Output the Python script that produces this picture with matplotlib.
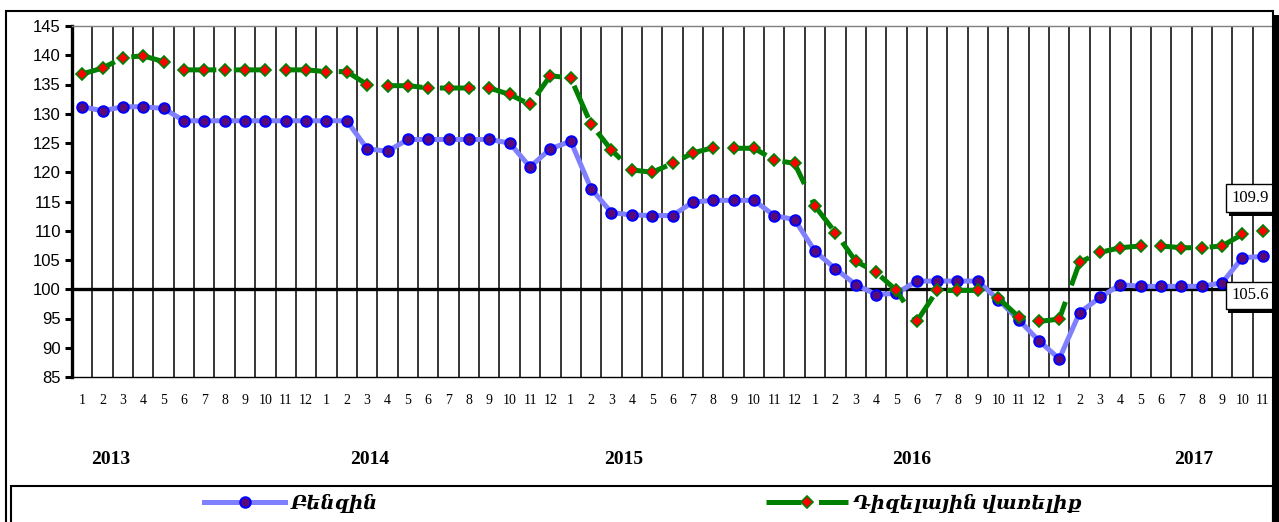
"""
Gasoline vs diesel price index, monthly 2013-2017.
Writes out.png
"""

import matplotlib.pyplot as plt
import matplotlib.patheffects as pe
from matplotlib.lines import Line2D
from matplotlib.patches import Rectangle

MONTHS = list(range(1, 13)) * 4 + list(range(1, 12))
YEARS = ["2013", "2014", "2015", "2016", "2017"]

GASOLINE = [
    131.2, 130.5, 131.2, 131.2, 130.9, 128.8, 128.8, 128.8, 128.8, 128.8, 128.8, 128.8,
    128.8, 128.8, 124.0, 123.6, 125.6, 125.6, 125.6, 125.6, 125.6, 125.0, 120.9, 124.0,
    125.3, 117.2, 113.1, 112.7, 112.6, 112.6, 114.9, 115.2, 115.2, 115.2, 112.6, 111.9,
    106.5, 103.5, 100.8, 99.1, 99.3, 101.4, 101.4, 101.4, 101.4, 98.2, 94.8, 91.2,
    88.1, 96.0, 98.6, 100.8, 100.5, 100.5, 100.5, 100.5, 101.1, 105.4, 105.6,
]
DIESEL = [
    136.8, 137.8, 139.6, 139.9, 138.9, 137.5, 137.5, 137.5, 137.5, 137.5, 137.5, 137.5,
    137.2, 137.2, 135.0, 134.8, 134.8, 134.4, 134.4, 134.4, 134.4, 133.3, 131.6, 136.5,
    136.1, 128.2, 123.8, 120.4, 120.0, 121.5, 123.3, 124.2, 124.1, 124.1, 122.1, 121.5,
    114.2, 109.7, 104.8, 102.9, 99.8, 94.5, 99.8, 99.8, 99.8, 98.5, 95.3, 94.5,
    94.9, 104.6, 106.3, 107.1, 107.4, 107.4, 107.1, 107.1, 107.4, 109.4, 109.9,
]
LABEL_GAS = "Բենզին"
LABEL_DIESEL = "Դիզելային վառելիք"

# where the year captions sit, in category units
YEAR_POS = [1.35, 14.04, 26.5, 40.67, 54.5]

W, H = 1279, 522
SERIF = ["Liberation Serif", "DejaVu Serif"]
DASH = (0, (7, 3.5))


def main() -> None:
    fig = plt.figure(figsize=(W / 100, H / 100), dpi=100)
    ax = fig.add_axes([72 / W, 1 - 377 / H, (1273 - 72) / W, (377 - 26) / H])

    x = list(range(len(MONTHS)))

    # category boundaries as vertical lines
    for k in range(1, len(MONTHS)):
        ax.axvline(k - 0.5, color="black", lw=1.1, zorder=1)
    ax.axhline(100, color="black", lw=2.4, zorder=2)

    ax.plot(x, GASOLINE, color="#8080FF", lw=3.6, marker="o", ms=7.5,
            mfc="#5a0a78", mec="#0000FF", mew=1.5, zorder=3, label=LABEL_GAS)
    ax.plot(x, DIESEL, color="#008000", lw=3.6, linestyle=DASH,
            marker="D", ms=6.2, mfc="#FF0000", mec="#008000", mew=1.2,
            zorder=4, label=LABEL_DIESEL)

    ax.set_xlim(-0.5, len(MONTHS) - 0.5)
    ax.set_ylim(85, 145)
    ax.set_yticks(range(85, 146, 5))
    ax.set_xticks(x)
    ax.set_xticklabels([str(m) for m in MONTHS], family=SERIF, fontsize=10)
    ax.tick_params(axis="x", length=0, pad=12)
    ax.tick_params(axis="y", direction="out", length=5, width=2.2, pad=3,
                   labelsize=12)
    for lab in ax.get_yticklabels():
        lab.set_family(["Liberation Sans Narrow", "Liberation Sans"])

    ax.spines["left"].set_linewidth(2.4)
    ax.spines["bottom"].set_linewidth(1.0)
    ax.spines["top"].set_color("#808080")
    ax.spines["top"].set_linewidth(1.0)
    ax.spines["right"].set_visible(False)

    # year captions below the month numbers
    for pos, yr in zip(YEAR_POS, YEARS):
        fig.text((73.5 + (pos + 0.5) * 20.36) / W, 1 - 460 / H, yr,
                 ha="center", va="center", family=SERIF, fontsize=14,
                 fontweight="bold")

    # end-point value labels with shadow
    shadow = [pe.withSimplePatchShadow(offset=(2, -3), shadow_rgbFace="black",
                                       alpha=1.0)]
    for vals, off in ((DIESEL, (-9, 24)), (GASOLINE, (-9, -28))):
        t = ax.annotate(f"{vals[-1]:.1f}", xy=(x[-1], vals[-1]), xytext=off,
                        textcoords="offset points", ha="center", va="center",
                        family=SERIF, fontsize=12, zorder=6,
                        bbox=dict(boxstyle="square,pad=0.35", fc="white",
                                  ec="black", lw=1.0))
        t.get_bbox_patch().set_path_effects(shadow)

    # outer chart frame and legend frame
    fig.patches.append(Rectangle((6 / W, -0.01), (1273 - 6) / W, 1 - 11 / H + 0.01,
                                 transform=fig.transFigure, fill=False,
                                 ec="black", lw=1.5))
    fig.patches.append(Rectangle((1273 / W, -0.01), 6 / W, 1 - 15 / H + 0.01,
                                 transform=fig.transFigure, fc="black",
                                 ec="none"))
    fig.patches.append(Rectangle((11 / W, -0.01), (1273 - 11) / W, 1 - 486 / H + 0.01,
                                 transform=fig.transFigure, fill=False,
                                 ec="black", lw=1.5))

    handles = [
        Line2D([], [], color="#8080FF", lw=3.6, marker="o", ms=7.5,
               mfc="#5a0a78", mec="#0000FF", mew=1.5),
        Line2D([], [], color="#008000", lw=3.6, linestyle=DASH,
               marker="D", ms=6.2, mfc="#FF0000", mec="#008000", mew=1.2),
    ]
    fig.legend(handles, [LABEL_GAS, LABEL_DIESEL], ncol=2, loc="center left",
               bbox_to_anchor=(194 / W, 1 - 503 / H), frameon=False,
               borderpad=0, handlelength=4.2, handletextpad=0.25,
               columnspacing=20,
               prop=dict(family=SERIF, style="italic", weight="bold", size=14))

    fig.savefig("out.png", dpi=100)


if __name__ == "__main__":
    main()
